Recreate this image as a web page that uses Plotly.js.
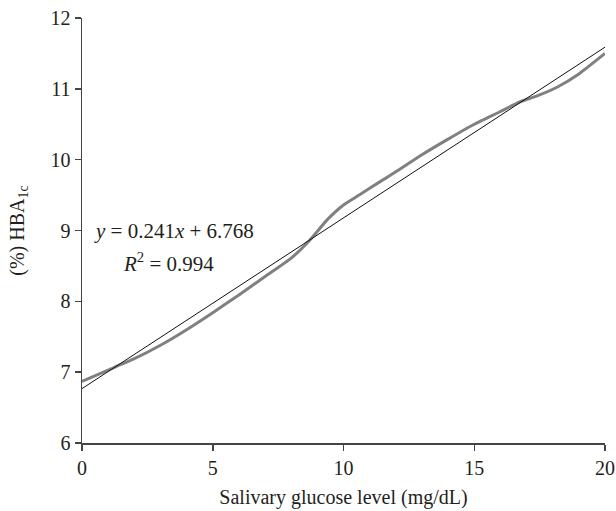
<!DOCTYPE html>
<html>
<head>
<meta charset="utf-8">
<script src="https://cdn.plot.ly/plotly-3.0.1.min.js"></script>
<style>html,body{margin:0;padding:0;background:#fff;}#chart{width:616px;height:511px;}</style>
</head>
<body>
<div id="chart"></div>
<script>
var glucose = [0, 1, 2, 3, 4, 5, 6, 7, 8, 8.7, 9.4, 10, 10.6, 11.4, 12, 13, 14, 15, 16, 16.7, 17.4, 18.2, 19, 20];
var hba1c = [6.87, 7.03, 7.19, 7.38, 7.6, 7.84, 8.09, 8.35, 8.61, 8.86, 9.16, 9.36, 9.5, 9.69, 9.83, 10.07, 10.29, 10.5, 10.68, 10.81, 10.9, 11.03, 11.21, 11.5];
var trendSlope = 0.241;
var trendIntercept = 6.768;
var trendRange = [0, 20];
var xTicks = [0, 5, 10, 15, 20];
var yTicks = [6, 7, 8, 9, 10, 11, 12];

var trendY = trendRange.map(function (x) { return trendSlope * x + trendIntercept; });
var font = 'Liberation Serif, Times New Roman, serif';
var txt = '#231f20';

var traces = [
  {
    x: glucose, y: hba1c, type: 'scatter', mode: 'lines',
    line: {color: '#808080', width: 3, shape: 'spline', smoothing: 0.5},
    hoverinfo: 'skip'
  },
  {
    x: trendRange, y: trendY, type: 'scatter', mode: 'lines',
    line: {color: '#111111', width: 1},
    hoverinfo: 'skip'
  }
];

var layout = {
  width: 616, height: 511,
  margin: {l: 82, r: 11, t: 18, b: 68},
  paper_bgcolor: '#ffffff', plot_bgcolor: '#ffffff',
  showlegend: false,
  font: {family: font, size: 20, color: txt},
  xaxis: {
    range: [0, 20], tickvals: xTicks, ticktext: xTicks.map(String),
    showgrid: false, zeroline: false, showline: true, linecolor: '#444444', linewidth: 1.5,
    ticks: 'outside', ticklen: 6, tickcolor: '#444444', tickwidth: 1.5,
    tickfont: {family: font, size: 20, color: txt},
    title: {text: 'Salivary glucose level (mg/dL)', font: {family: font, size: 20, color: txt}, standoff: 12}
  },
  yaxis: {
    range: [6, 12], tickvals: yTicks, ticktext: yTicks.map(String),
    showgrid: false, zeroline: false, showline: true, linecolor: '#444444', linewidth: 1.5,
    ticks: 'outside', ticklen: 6, tickcolor: '#444444', tickwidth: 1.5,
    tickfont: {family: font, size: 20, color: txt},
    title: {text: '(%) HBA<sub>1c</sub>', font: {family: font, size: 20, color: txt}, standoff: 20}
  },
  annotations: [
    {
      x: 0.39, y: 9, xref: 'x', yref: 'y', xanchor: 'left', yanchor: 'middle',
      text: '<i>y</i> = 0.241<i>x</i> + 6.768', showarrow: false,
      font: {family: font, size: 21, color: txt}
    },
    {
      x: 1.5, y: 8.55, xref: 'x', yref: 'y', xanchor: 'left', yanchor: 'middle',
      text: '<i>R</i><sup>2</sup> = 0.994', showarrow: false,
      font: {family: font, size: 21, color: txt}
    }
  ]
};

Plotly.newPlot('chart', traces, layout, {displayModeBar: false, staticPlot: true});
</script>
</body>
</html>
